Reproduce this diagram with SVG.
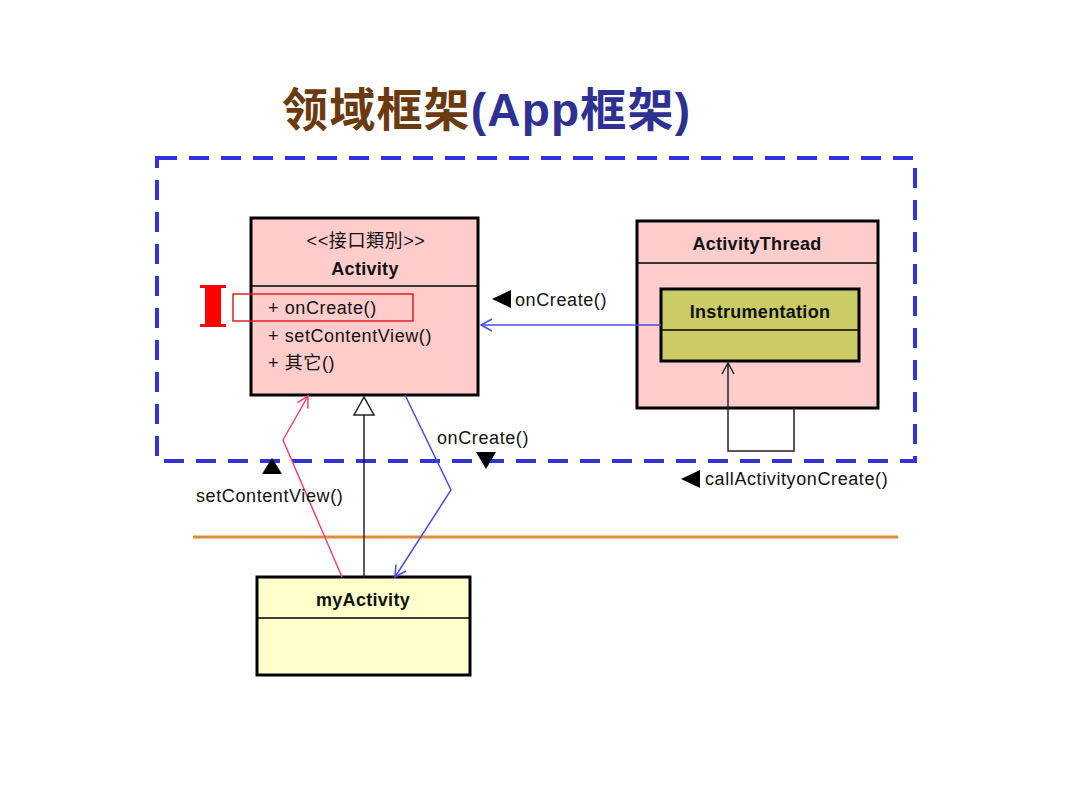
<svg xmlns="http://www.w3.org/2000/svg" width="1080" height="810" viewBox="0 0 1080 810">
<style>
.t{font-family:"Liberation Sans","Noto Sans CJK SC",sans-serif;font-size:18px;letter-spacing:0.6px;fill:#111}
.b{font-weight:bold;text-anchor:middle;letter-spacing:0.3px}
.box{stroke:#000;stroke-width:3}
.div{stroke:#000;stroke-width:1.5}
</style>
<defs>
<marker id="openB" markerWidth="14" markerHeight="14" refX="12" refY="7" orient="auto" markerUnits="userSpaceOnUse"><path d="M1,1 L12,7 L1,13" fill="none" stroke="#4a4ae8" stroke-width="1.5"/></marker>
<marker id="openP" markerWidth="14" markerHeight="14" refX="12" refY="7" orient="auto" markerUnits="userSpaceOnUse"><path d="M1,1 L12,7 L1,13" fill="none" stroke="#ee4477" stroke-width="1.5"/></marker>
<marker id="openK" markerWidth="14" markerHeight="14" refX="12" refY="7" orient="auto" markerUnits="userSpaceOnUse"><path d="M1,1 L12,7 L1,13" fill="none" stroke="#222" stroke-width="1.5"/></marker>
</defs>
<rect width="1080" height="810" fill="#fff"/>
<text x="282" y="126" font-family="'Liberation Sans','Noto Sans CJK SC',sans-serif" font-size="46" font-weight="bold" textLength="408" lengthAdjust="spacing"><tspan fill="#6b3a0e">领域框架</tspan><tspan fill="#2e3192">(App框架)</tspan></text>
<rect x="157" y="158" width="758" height="303" fill="none" stroke="#3333dd" stroke-width="4" stroke-dasharray="20 12"/>
<line x1="193" y1="537" x2="898" y2="537" stroke="#e08a3c" stroke-width="3"/>
<g id="Activity">
<rect x="251" y="218" width="227" height="177" fill="#ffcccc" class="box"/>
<line x1="251" y1="286" x2="478" y2="286" class="div"/>
<text x="366" y="247" class="t" text-anchor="middle" font-size="16" letter-spacing="1">&lt;&lt;接口類別&gt;&gt;</text>
<text x="365" y="275" class="t b">Activity</text>
<text x="268" y="314" class="t">+ onCreate()</text>
<text x="268" y="342" class="t">+ setContentView()</text>
<text x="268" y="369" class="t">+ 其它()</text>
</g>
<g id="highlight">
<rect x="233" y="294" width="180" height="27" fill="none" stroke="#e02020" stroke-width="1.5"/>
<path d="M200,285 H226 V288 H221 V324 H226 V327 H200 V324 H205 V288 H200 Z" fill="#ff0000"/>
</g>
<g id="ActivityThread">
<rect x="637" y="221" width="241" height="187" fill="#ffcccc" class="box"/>
<line x1="637" y1="263" x2="878" y2="263" class="div"/>
<text x="757" y="250" class="t b">ActivityThread</text>
</g>
<g id="Instrumentation">
<rect x="661" y="289" width="198" height="72" fill="#cccc66" class="box"/>
<line x1="661" y1="330" x2="859" y2="330" class="div"/>
<text x="760" y="318" class="t b">Instrumentation</text>
</g>
<g id="myActivity">
<rect x="257" y="577" width="213" height="98" fill="#ffffcc" class="box"/>
<line x1="257" y1="618" x2="470" y2="618" class="div"/>
<text x="363" y="606" class="t b">myActivity</text>
</g>
<g id="connectors">
<line x1="661" y1="325" x2="481" y2="325" stroke="#4a4ae8" stroke-width="1.5" marker-end="url(#openB)"/>
<polyline points="794,408 794,451 728,451 728,363" fill="none" stroke="#222" stroke-width="1.5" marker-end="url(#openK)"/>
<line x1="364" y1="577" x2="364" y2="415" stroke="#222" stroke-width="1.5"/>
<polygon points="364,397 354,415 374,415" fill="#fff" stroke="#222" stroke-width="1.5"/>
<polyline points="342,577 283,440 308,396" fill="none" stroke="#ee4477" stroke-width="1.5" marker-end="url(#openP)"/>
<polyline points="405,395 451,490 395,577" fill="none" stroke="#4a4ae8" stroke-width="1.5" marker-end="url(#openB)"/>
</g>
<g id="labels">
<polygon points="492,299 511,290 511,308" fill="#000"/>
<text x="515" y="306" class="t">onCreate()</text>
<polygon points="262,474 272,458 282,474" fill="#000"/>
<text x="196" y="502" class="t">setContentView()</text>
<text x="437" y="444" class="t">onCreate()</text>
<polygon points="476,452 496,452 486,469" fill="#000"/>
<polygon points="681,479 700,470 700,488" fill="#000"/>
<text x="705" y="485" class="t">callActivityonCreate()</text>
</g>
</svg>
